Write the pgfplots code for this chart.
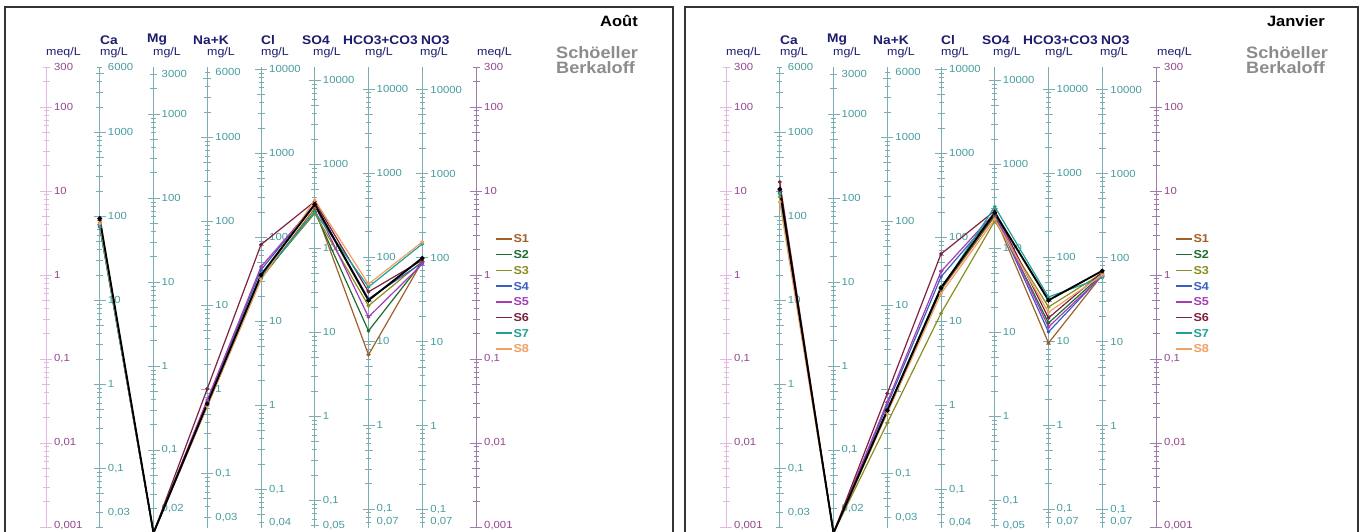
\documentclass[border=0pt]{standalone}
\usepackage{pgfplots}
\pgfplotsset{compat=1.18}
\usepackage{pgfplotstable}
\usepackage{fontspec}
\setmainfont{Liberation Sans}[FakeStretch=1.1]

\definecolor{cS1}{HTML}{A0602A}
\definecolor{cS2}{HTML}{1E6B30}
\definecolor{cS3}{HTML}{8C8C20}
\definecolor{cS4}{HTML}{3A5FC0}
\definecolor{cS5}{HTML}{A63CB4}
\definecolor{cS6}{HTML}{7E2040}
\definecolor{cS7}{HTML}{20A098}
\definecolor{cS8}{HTML}{F0A060}
\definecolor{scl}{HTML}{7AAEB2}
\definecolor{sclt}{HTML}{479C9E}
\definecolor{meqL}{HTML}{E2B8E2}
\definecolor{meqR}{HTML}{A07AAC}
\definecolor{meqt}{HTML}{94468E}
\definecolor{navy}{HTML}{1C1C6E}
\definecolor{sbgray}{HTML}{8C8C8C}

\pgfplotsset{legend image code/.code={\draw[#1,line width=1.6pt] (0pt,0pt) -- (16pt,0pt);}}

\pgfplotstableread{
x  s1      s2      s3      s4      s5      s6      s7      s8      k
1  4.0     3.8     4.2     4.0     3.9     4.5     3.7     4.1     4.7
2  0.00085 0.00085 0.00085 0.00085 0.00085 0.00085 0.00085 0.00085 0.00085
3  0.0277  0.0280  0.0284  0.0313  0.0326  0.0442  0.0284  0.0273  0.0292
4  0.90    0.92    0.95    1.15    1.25    2.30    0.95    0.88    1.00
5  6.2     5.7     5.4     7.0     6.8     7.5     5.6     7.8     6.9
6  0.112   0.216   0.43    0.52    0.316   0.63    0.72    0.78    0.50
7  1.45    1.42    1.45    1.40    1.35    1.50    2.34    2.47    1.59
}\aout

\pgfplotstableread{
x  s1      s2      s3      s4      s5      s6      s7      s8      k
1  10.0    9.5     8.5     10.2    9.8     12.8    9.2     7.4     10.5
2  0.00085 0.00085 0.00085 0.00085 0.00085 0.00085 0.00085 0.00085 0.00085
3  0.0237  0.0247  0.01725 0.0284  0.0306  0.0389  0.0240  0.0226  0.0244
4  0.66    0.72    0.35    0.95    1.10    1.78    0.68    0.60    0.70
5  5.0     5.2     4.4     5.3     5.5     5.8     6.5     4.6     5.5
6  0.155   0.268   0.416   0.21    0.24    0.308   0.547   0.36    0.50
7  1.00    1.02    1.05    1.00    0.98    1.08    0.93    1.00    1.12
}\janv

% #1 x, #2 log10(eq weight), #3 line colour, #4 label colour, #5 labels
\newcommand{\colscale}[5]{%
  \draw[#3, line width=0.9pt] (#1,3.5) -- (#1,464.1);
  \foreach \e in {-4,...,4}{%
    \foreach \k/\l in {1/6,2/3.5,3/3.5,4/2.5,5/4,6/2.5,7/2.5,8/2.5,9/2.5}{%
      \pgfmathsetmacro\yy{256+84*(log10(\k)+(\e)-(#2))}%
      \pgfmathtruncatemacro\ok{(\yy>=3.4 && \yy<=464.2)}%
      \ifnum\ok=1 \draw[#3, line width=0.7pt] (#1-\l,\yy) -- (#1+\l,\yy);\fi
    }%
  }%
  \foreach \v/\t in {#5}{%
    \pgfmathsetmacro\yy{256+84*(log10(\v)-(#2))}%
    \node[anchor=west, inner sep=0pt, text=#4, font=\fontsize{10.3}{10.3}\selectfont] at (#1+8,\yy) {\t};
  }%
}

\newcommand{\panel}[5]{% #1 shift, #2 title, #3 title right x, #4 SB x, #5 frame right
\begin{scope}[xshift=#1]
  \draw[line width=1.1pt, black!80] (5,-3) rectangle (#5,524);
  \colscale{46}{0}{meqL}{meqt}{300/300,100/100,10/10,1/1,0.1/{0,1},0.01/{0,01},0.001/{0,001}}
  \colscale{99.75}{1.3019}{scl}{sclt}{6000/6000,1000/1000,100/100,10/10,1/1,0.1/{0,1},0.03/{0,03}}
  \colscale{153.5}{1.0846}{scl}{sclt}{3000/3000,1000/1000,100/100,10/10,1/1,0.1/{0,1},0.02/{0,02}}
  \colscale{207.25}{1.3617}{scl}{sclt}{6000/6000,1000/1000,100/100,10/10,1/1,0.1/{0,1},0.03/{0,03}}
  \colscale{261}{1.5496}{scl}{sclt}{10000/10000,1000/1000,100/100,10/10,1/1,0.1/{0,1},0.04/{0,04}}
  \colscale{314.75}{1.6815}{scl}{sclt}{10000/10000,1000/1000,100/100,10/10,1/1,0.1/{0,1},0.05/{0,05}}
  \colscale{368.5}{1.7855}{scl}{sclt}{10000/10000,1000/1000,100/100,10/10,1/1,0.1/{0,1},0.07/{0,07}}
  \colscale{422.25}{1.7924}{scl}{sclt}{10000/10000,1000/1000,100/100,10/10,1/1,0.1/{0,1},0.07/{0,07}}
  \colscale{476}{0}{meqR}{meqt}{300/300,100/100,10/10,1/1,0.1/{0,1},0.01/{0,01},0.001/{0,001}}
  \begin{scope}[every node/.style={anchor=west, inner sep=0pt, text=navy, font=\bfseries\fontsize{12.5}{12.5}\selectfont}]
    \node at (100,491) {Ca};
    \node at (147,491) {Mg};
    \node at (193,491) {Na+K};
    \node at (261,491) {Cl};
    \node at (302,491) {SO4};
    \node at (343,491) {HCO3+CO3};
    \node at (421,491) {NO3};
  \end{scope}
  \begin{scope}[every node/.style={anchor=west, inner sep=0pt, text=navy, font=\fontsize{11.3}{11.3}\selectfont}]
    \node at (46,478) {meq/L};
    \node at (100,478) {mg/L};
    \node at (153,478) {mg/L};
    \node at (207,478) {mg/L};
    \node at (261,478) {mg/L};
    \node at (313,478) {mg/L};
    \node at (365,478) {mg/L};
    \node at (420,478) {mg/L};
    \node at (477,478) {meq/L};
  \end{scope}
  \node[anchor=east, inner sep=0pt, font=\bfseries\fontsize{15}{15}\selectfont] at (#3,510) {#2};
  \node[anchor=west, inner sep=0pt, text=sbgray, font=\bfseries\fontsize{16.5}{16.5}\selectfont] at (#4,478) {Schöeller};
  \node[anchor=west, inner sep=0pt, text=sbgray, font=\bfseries\fontsize{16.5}{16.5}\selectfont] at (#4,463) {Berkaloff};
\end{scope}}

\begin{document}
\begin{tikzpicture}[x=1pt,y=1pt]
\useasboundingbox (0,0) rectangle (1363,531);
\panel{0pt}{Août}{638}{556}{673}
\panel{680pt}{Janvier}{645}{566}{678}

\begin{axis}[at={(46pt,0pt)}, anchor=south west, scale only axis, width=430pt, height=464.1pt,
  xmin=0, xmax=8, ymode=log, ymin=8.96e-4, ymax=300,
  hide axis, clip=false,
  every axis plot/.append style={line width=1.2pt, mark=*, mark size=1.2pt},
  legend style={at={(1.044,0.64)}, anchor=north west, draw=none, fill=none,
    inner sep=0pt, font=\bfseries\fontsize{11.5}{11.5}\selectfont,
    nodes={inner sep=0.8pt, text height=8pt, text depth=0pt},
    row sep=6.1pt}]
\addplot[cS1] table[x=x,y=s1]{\aout};
\addplot[cS2] table[x=x,y=s2]{\aout};
\addplot[cS3] table[x=x,y=s3]{\aout};
\addplot[cS4] table[x=x,y=s4]{\aout};
\addplot[cS5] table[x=x,y=s5]{\aout};
\addplot[cS6] table[x=x,y=s6]{\aout};
\addplot[cS7] table[x=x,y=s7]{\aout};
\addplot[cS8] table[x=x,y=s8]{\aout};
\addplot[black, line width=1.9pt, forget plot] table[x=x,y=k]{\aout};
\legend{\textcolor{cS1}{S1},\textcolor{cS2}{S2},\textcolor{cS3}{S3},\textcolor{cS4}{S4},\textcolor{cS5}{S5},\textcolor{cS6}{S6},\textcolor{cS7}{S7},\textcolor{cS8}{S8}}
\end{axis}

\begin{axis}[at={(726pt,0pt)}, anchor=south west, scale only axis, width=430pt, height=464.1pt,
  xmin=0, xmax=8, ymode=log, ymin=8.96e-4, ymax=300,
  hide axis, clip=false,
  every axis plot/.append style={line width=1.2pt, mark=*, mark size=1.2pt},
  legend style={at={(1.044,0.64)}, anchor=north west, draw=none, fill=none,
    inner sep=0pt, font=\bfseries\fontsize{11.5}{11.5}\selectfont,
    nodes={inner sep=0.8pt, text height=8pt, text depth=0pt},
    row sep=6.1pt}]
\addplot[cS1] table[x=x,y=s1]{\janv};
\addplot[cS2] table[x=x,y=s2]{\janv};
\addplot[cS3] table[x=x,y=s3]{\janv};
\addplot[cS4] table[x=x,y=s4]{\janv};
\addplot[cS5] table[x=x,y=s5]{\janv};
\addplot[cS6] table[x=x,y=s6]{\janv};
\addplot[cS7] table[x=x,y=s7]{\janv};
\addplot[cS8] table[x=x,y=s8]{\janv};
\addplot[black, line width=1.9pt, forget plot] table[x=x,y=k]{\janv};
\legend{\textcolor{cS1}{S1},\textcolor{cS2}{S2},\textcolor{cS3}{S3},\textcolor{cS4}{S4},\textcolor{cS5}{S5},\textcolor{cS6}{S6},\textcolor{cS7}{S7},\textcolor{cS8}{S8}}
\end{axis}
\end{tikzpicture}
\end{document}
